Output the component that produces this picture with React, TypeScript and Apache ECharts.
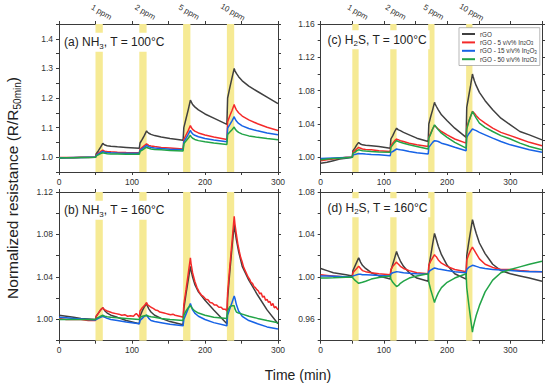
import React, { useEffect, useRef } from "react";
import * as echarts from "echarts";

// ---------- data ----------
const SERIES_NAMES = ["rGO", "rGO - 5 v/v% In2O3", "rGO - 15 v/v% In2O3", "rGO - 50 v/v% In2O3"];
const LINE_COLORS = ["#404040", "#f42a2a", "#1763e6", "#22a447"];

const EXPOSURE_STARTS = [50, 110, 170, 230];
const EXPOSURE_LENGTH = 10;
const CONC_LABELS = ["1 ppm", "2 ppm", "5 ppm", "10 ppm"];

const TIME_AB = [0, 10, 20, 30, 40,
  50, 51, 54, 57, 60, 61, 63, 66, 71, 80, 92,
  110, 111, 114, 117, 120, 121, 123, 126, 131, 140, 152,
  170, 171, 174, 177, 180, 181, 183, 186, 191, 200, 212,
  230, 231, 234, 237, 240, 241, 243, 246, 251, 260, 272, 285, 300];

const TIME_CD = [0, 10, 20, 30, 40,
  50, 51, 54, 57, 60, 61, 63, 66, 71, 80, 92,
  110, 111, 114, 117, 120, 121, 123, 126, 131, 140, 152,
  170, 171, 174, 177, 180, 181, 183, 186, 191, 200, 212,
  230, 231, 234, 237, 240, 241, 243, 246, 251, 260, 272, 285, 300, 315, 330, 350];

const TIME_B_RED = [0, 10, 20, 30, 40, 50, 51, 54, 57, 60, 61, 63, 66, 70, 74, 78, 82, 86, 90, 94, 98, 102, 104, 106, 108, 110,
  111, 114, 117, 120, 121, 123, 126, 129, 132, 135, 138, 141, 144, 147, 150, 153, 156, 159, 162, 165, 168, 170,
  171, 174, 177, 180, 181, 183, 186, 189, 192, 195, 198, 201, 204, 207, 210, 213, 216, 219, 222, 225, 228, 230,
  231, 234, 237, 240, 241, 243, 245, 247, 249, 251, 253, 255, 257, 259, 261, 263, 265, 267, 269, 271, 273, 275, 277, 279,
  281, 283, 285, 287, 289, 291, 293, 295, 297, 300];

// (a) NH3, 100 °C
const NH3_100_RGO = [0.997, 0.998, 0.998, 0.999, 0.999,
  1.000, 1.012, 1.022, 1.034, 1.047, 1.044, 1.041, 1.039, 1.037, 1.035, 1.033,
  1.030, 1.048, 1.060, 1.074, 1.089, 1.085, 1.081, 1.077, 1.073, 1.068, 1.063,
  1.057, 1.100, 1.130, 1.160, 1.193, 1.188, 1.178, 1.170, 1.160, 1.146, 1.132,
  1.111, 1.200, 1.235, 1.268, 1.300, 1.292, 1.283, 1.272, 1.258, 1.240, 1.222, 1.203, 1.181];
const NH3_100_IN5 = [0.999, 0.999, 0.999, 1.000, 1.000,
  1.000, 1.008, 1.014, 1.019, 1.024, 1.022, 1.020, 1.019, 1.018, 1.017, 1.016,
  1.015, 1.027, 1.033, 1.039, 1.045, 1.043, 1.040, 1.038, 1.036, 1.033, 1.031,
  1.028, 1.060, 1.075, 1.090, 1.107, 1.101, 1.094, 1.088, 1.082, 1.075, 1.068,
  1.060, 1.120, 1.140, 1.158, 1.178, 1.170, 1.160, 1.150, 1.139, 1.126, 1.113, 1.101, 1.090];
const NH3_100_IN15 = [0.998, 0.998, 0.999, 0.999, 1.000,
  1.000, 1.006, 1.011, 1.015, 1.020, 1.018, 1.017, 1.016, 1.015, 1.014, 1.013,
  1.013, 1.024, 1.029, 1.034, 1.040, 1.038, 1.035, 1.033, 1.031, 1.029, 1.027,
  1.025, 1.052, 1.064, 1.077, 1.091, 1.085, 1.079, 1.074, 1.069, 1.063, 1.058,
  1.052, 1.098, 1.110, 1.123, 1.137, 1.130, 1.122, 1.114, 1.106, 1.097, 1.089, 1.082, 1.076];
const NH3_100_IN50 = [0.997, 0.998, 0.998, 0.999, 0.999,
  1.000, 1.005, 1.008, 1.012, 1.015, 1.014, 1.013, 1.012, 1.011, 1.011, 1.010,
  1.010, 1.020, 1.024, 1.029, 1.034, 1.032, 1.030, 1.028, 1.026, 1.025, 1.023,
  1.021, 1.045, 1.055, 1.064, 1.074, 1.069, 1.064, 1.060, 1.056, 1.052, 1.048,
  1.043, 1.077, 1.085, 1.093, 1.102, 1.096, 1.090, 1.084, 1.078, 1.072, 1.067, 1.063, 1.059];

// (b) NH3, 160 °C
const NH3_160_RGO = [1.004, 1.003, 1.002, 1.001, 1.0005,
  1.000, 1.003, 1.006, 1.009, 1.011, 1.010, 1.008, 1.006, 1.004, 1.002, 0.999,
  0.996, 1.003, 1.008, 1.012, 1.015, 1.013, 1.010, 1.007, 1.004, 1.001, 0.998,
  0.995, 1.010, 1.024, 1.037, 1.050, 1.046, 1.040, 1.033, 1.026, 1.018, 1.009,
  0.996, 1.020, 1.045, 1.068, 1.089, 1.084, 1.075, 1.064, 1.050, 1.037, 1.023, 1.009, 0.996];
const NH3_160_IN5 = [1.001, 1.000, 1.000, 1.000, 0.999, 0.999,
  1.003, 1.006, 1.009, 1.011, 1.010, 1.009, 1.008,
  1.007, 1.006, 1.0055, 1.005, 1.004, 1.0045, 1.003, 1.0035,
  1.003, 1.0045, 1.0055, 1.004, 1.002,
  1.008, 1.011, 1.013, 1.016, 1.014, 1.013, 1.0115,
  1.0105, 1.009, 1.0085, 1.007, 1.0065, 1.006, 1.0055, 1.005, 1.0045, 1.005, 1.004, 1.0035, 1.003, 1.0025,
  1.002,
  1.014, 1.028, 1.043, 1.058, 1.052, 1.044, 1.036,
  1.030, 1.026, 1.023, 1.0215, 1.019, 1.0185, 1.016, 1.0155, 1.0135, 1.0135, 1.0115, 1.0115, 1.0095, 1.0095,
  1.008,
  1.025, 1.050, 1.073, 1.097, 1.090,
  1.080, 1.071, 1.064, 1.058, 1.054, 1.049, 1.046, 1.043, 1.040, 1.038, 1.035, 1.034, 1.031, 1.030,
  1.028, 1.027, 1.024, 1.025, 1.021, 1.022, 1.018, 1.019, 1.016, 1.017, 1.013, 1.015, 1.011, 1.012,
  1.009];
const NH3_160_IN15 = [1.002, 1.0015, 1.001, 1.0005, 1.000,
  0.9995, 1.000, 1.001, 1.002, 1.003, 1.0025, 1.002, 1.001, 1.000, 0.999, 0.9975,
  0.996, 0.999, 1.001, 1.003, 1.004, 1.003, 1.001, 0.999, 0.998, 0.997, 0.9955,
  0.994, 1.000, 1.005, 1.010, 1.015, 1.013, 1.009, 1.006, 1.003, 1.000, 0.997,
  0.994, 1.004, 1.010, 1.016, 1.022, 1.020, 1.014, 1.008, 1.003, 0.999, 0.996, 0.993, 0.991];
const NH3_160_IN50 = [1.000, 1.000, 1.000, 1.000, 1.000,
  1.000, 1.001, 1.002, 1.003, 1.004, 1.0035, 1.003, 1.0025, 1.002, 1.0015, 1.001,
  1.000, 1.002, 1.003, 1.0035, 1.004, 1.0035, 1.003, 1.0025, 1.002, 1.001, 1.000,
  0.999, 1.004, 1.008, 1.011, 1.013, 1.012, 1.010, 1.008, 1.006, 1.004, 1.002,
  1.001, 1.008, 1.012, 1.013, 1.013, 1.010, 1.007, 1.006, 1.005, 1.003, 1.001, 0.999, 0.997];

// (c) H2S, 100 °C
const H2S_100_RGO = [0.993, 0.994, 0.996, 0.998, 0.999,
  1.000, 1.008, 1.011, 1.015, 1.018, 1.017, 1.016, 1.015, 1.0145, 1.014, 1.013,
  1.011, 1.022, 1.026, 1.031, 1.035, 1.034, 1.033, 1.032, 1.030, 1.027, 1.023,
  1.019, 1.040, 1.049, 1.057, 1.066, 1.064, 1.061, 1.057, 1.051, 1.044, 1.035,
  1.024, 1.060, 1.073, 1.086, 1.100, 1.097, 1.092, 1.086, 1.078, 1.068, 1.057, 1.047, 1.039, 1.031, 1.027, 1.021];
const H2S_100_IN5 = [0.996, 0.997, 0.998, 0.999, 1.000,
  1.000, 1.006, 1.008, 1.010, 1.012, 1.0115, 1.011, 1.010, 1.0095, 1.009, 1.008,
  1.007, 1.014, 1.017, 1.020, 1.022, 1.0215, 1.021, 1.020, 1.019, 1.017, 1.015,
  1.013, 1.024, 1.029, 1.034, 1.038, 1.0375, 1.036, 1.034, 1.031, 1.027, 1.022,
  1.017, 1.036, 1.043, 1.049, 1.055, 1.0545, 1.053, 1.050, 1.046, 1.041, 1.035, 1.030, 1.026, 1.022, 1.018, 1.014];
const H2S_100_IN15 = [0.9985, 0.999, 0.9993, 0.9996, 0.9998,
  1.000, 1.003, 1.0035, 1.004, 1.0045, 1.0045, 1.0044, 1.0043, 1.004, 1.0035, 1.003,
  1.002, 1.006, 1.007, 1.0085, 1.010, 1.010, 1.0095, 1.009, 1.0085, 1.007, 1.0055,
  1.004, 1.012, 1.015, 1.018, 1.020, 1.020, 1.0195, 1.019, 1.017, 1.015, 1.012,
  1.008, 1.024, 1.028, 1.031, 1.034, 1.034, 1.033, 1.032, 1.030, 1.027, 1.023, 1.019, 1.015, 1.012, 1.009, 1.006];
const H2S_100_IN50 = [0.997, 0.998, 0.9985, 0.999, 0.9995,
  1.000, 1.005, 1.006, 1.008, 1.009, 1.009, 1.0085, 1.008, 1.0075, 1.007, 1.0065,
  1.006, 1.012, 1.015, 1.018, 1.020, 1.0195, 1.019, 1.018, 1.017, 1.015, 1.013,
  1.010, 1.023, 1.028, 1.034, 1.039, 1.038, 1.036, 1.033, 1.029, 1.024, 1.018,
  1.011, 1.034, 1.042, 1.049, 1.055, 1.054, 1.051, 1.047, 1.041, 1.036, 1.031, 1.026, 1.022, 1.017, 1.013, 1.009];

// (d) H2S, 160 °C
const H2S_160_RGO = [1.008, 1.006, 1.004, 1.003, 1.002,
  1.001, 1.006, 1.010, 1.014, 1.018, 1.017, 1.014, 1.011, 1.008, 1.004, 1.001,
  0.998, 1.006, 1.012, 1.018, 1.024, 1.022, 1.019, 1.015, 1.010, 1.004, 0.999,
  0.996, 1.010, 1.020, 1.031, 1.041, 1.039, 1.035, 1.029, 1.021, 1.011, 1.003,
  0.998, 1.020, 1.032, 1.043, 1.054, 1.052, 1.047, 1.041, 1.032, 1.022, 1.012, 1.006, 1.003, 1.001, 0.999, 0.996];
const H2S_160_IN5 = [1.002, 1.0015, 1.001, 1.0005, 1.000,
  1.000, 1.004, 1.006, 1.008, 1.010, 1.0095, 1.008, 1.006, 1.005, 1.004, 1.003,
  1.002, 1.007, 1.010, 1.012, 1.014, 1.013, 1.012, 1.010, 1.008, 1.006, 1.004,
  1.003, 1.011, 1.015, 1.018, 1.021, 1.020, 1.019, 1.016, 1.013, 1.010, 1.007,
  1.005, 1.016, 1.021, 1.025, 1.028, 1.027, 1.025, 1.022, 1.017, 1.012, 1.009, 1.007, 1.007, 1.006, 1.0055, 1.005];
const H2S_160_IN15 = [1.001, 1.0008, 1.0006, 1.0004, 1.0002,
  1.000, 1.001, 1.0015, 1.002, 1.0025, 1.0025, 1.0025, 1.002, 1.002, 1.0018, 1.0015,
  1.001, 1.003, 1.004, 1.0045, 1.005, 1.005, 1.0048, 1.0045, 1.004, 1.0035, 1.003,
  1.0025, 1.005, 1.0065, 1.0075, 1.0085, 1.0085, 1.008, 1.0075, 1.007, 1.006, 1.005,
  1.004, 1.007, 1.009, 1.010, 1.011, 1.011, 1.0105, 1.010, 1.009, 1.008, 1.007, 1.0065, 1.006, 1.0055, 1.005, 1.005];
const H2S_160_IN50 = [0.999, 0.999, 0.9992, 0.9995, 0.9998,
  1.000, 0.999, 0.997, 0.9955, 0.994, 0.994, 0.9945, 0.995, 0.996, 0.998, 0.9995,
  1.001, 0.998, 0.995, 0.993, 0.991, 0.991, 0.992, 0.994, 0.996, 0.999, 1.001,
  1.003, 0.995, 0.988, 0.982, 0.976, 0.978, 0.981, 0.985, 0.990, 0.995, 0.999,
  1.003, 0.990, 0.975, 0.961, 0.948, 0.952, 0.957, 0.964, 0.973, 0.986, 0.997, 1.004, 1.007, 1.0095, 1.012, 1.0148];

// tick values
const X_TICKS_AB = [0, 50, 100, 150, 200, 250, 300];
const X_TICKS_CD = [0, 50, 100, 150, 200, 250, 300, 350];
const X_LABELS = [0, 100, 200, 300];
const Y_TICKS_A = [0.95, 1.0, 1.05, 1.1, 1.15, 1.2, 1.25, 1.3, 1.35, 1.4, 1.45];
const Y_LABELS_A = [1.0, 1.1, 1.2, 1.3, 1.4];
const Y_TICKS_B = [0.98, 1.0, 1.02, 1.04, 1.06, 1.08, 1.1, 1.12];
const Y_LABELS_B = [1.0, 1.04, 1.08, 1.12];
const Y_TICKS_C = [1.0, 1.02, 1.04, 1.06, 1.08, 1.1, 1.12, 1.14, 1.16];
const Y_LABELS_C = [1.0, 1.04, 1.08, 1.12, 1.16];
const Y_TICKS_D = [0.94, 0.96, 0.98, 1.0, 1.02, 1.04, 1.06, 1.08];
const Y_LABELS_D = [0.96, 1.0, 1.04, 1.08];

// ---------- styling / layout ----------
const FONT = "'Liberation Sans', Arial, Helvetica, sans-serif";
const AXIS_COLOR = "#3a3a3a";
const LABEL_COLOR = "#333";
const BAND_COLOR = "#f6ea94";

type Panel = {
  grid: { left: number; top: number; width: number; height: number };
  xMax: number;
  xTicks: number[];
  yMin: number;
  yMax: number;
  yTicks: number[];
  yLabels: number[];
  yDigits: number;
  times: number[][];
  values: number[][];
  title: string;
  titleX: number;
  titleY: number;
  ppm: boolean;
};

const PANELS: Panel[] = [
  {
    grid: { left: 59, top: 24, width: 219, height: 148 },
    xMax: 300, xTicks: X_TICKS_AB, yMin: 0.95, yMax: 1.45, yTicks: Y_TICKS_A, yLabels: Y_LABELS_A, yDigits: 1,
    times: [TIME_AB, TIME_AB, TIME_AB, TIME_AB],
    values: [NH3_100_RGO, NH3_100_IN5, NH3_100_IN15, NH3_100_IN50],
    title: "{t|(a) NH}{s|3}{t|, T = 100°C}", titleX: 61.5, titleY: 42.2, ppm: true,
  },
  {
    grid: { left: 59, top: 192, width: 219, height: 148.7 },
    xMax: 300, xTicks: X_TICKS_AB, yMin: 0.98, yMax: 1.12, yTicks: Y_TICKS_B, yLabels: Y_LABELS_B, yDigits: 2,
    times: [TIME_AB, TIME_B_RED, TIME_AB, TIME_AB],
    values: [NH3_160_RGO, NH3_160_IN5, NH3_160_IN15, NH3_160_IN50],
    title: "{t|(b) NH}{s|3}{t|, T = 160°C}", titleX: 61.5, titleY: 210.2, ppm: false,
  },
  {
    grid: { left: 320.7, top: 24, width: 221.3, height: 148 },
    xMax: 350, xTicks: X_TICKS_CD, yMin: 0.9824, yMax: 1.16, yTicks: Y_TICKS_C, yLabels: Y_LABELS_C, yDigits: 2,
    times: [TIME_CD, TIME_CD, TIME_CD, TIME_CD],
    values: [H2S_100_RGO, H2S_100_IN5, H2S_100_IN15, H2S_100_IN50],
    title: "{t|(c) H}{s|2}{t|S, T = 100°C}", titleX: 325, titleY: 39.7, ppm: true,
  },
  {
    grid: { left: 320.7, top: 192, width: 221.3, height: 148.7 },
    xMax: 350, xTicks: X_TICKS_CD, yMin: 0.94, yMax: 1.08, yTicks: Y_TICKS_D, yLabels: Y_LABELS_D, yDigits: 2,
    times: [TIME_CD, TIME_CD, TIME_CD, TIME_CD],
    values: [H2S_160_RGO, H2S_160_IN5, H2S_160_IN15, H2S_160_IN50],
    title: "{t|(d) H}{s|2}{t|S, T = 160°C}", titleX: 325, titleY: 207.7, ppm: false,
  },
];

function buildOption() {
  const grid: any[] = [];
  const xAxis: any[] = [];
  const yAxis: any[] = [];
  const series: any[] = [];
  const graphics: any[] = [];
  const axisLine = { show: true, onZero: false, lineStyle: { color: AXIS_COLOR, width: 1 } };
  const tickStyle = { color: AXIS_COLOR, width: 1 };
  const labelBase = { fontSize: 8.5, color: LABEL_COLOR, fontFamily: FONT };
  const centers = EXPOSURE_STARTS.map((s) => s + EXPOSURE_LENGTH / 2);

  PANELS.forEach((p, pi) => {
    grid.push({ ...p.grid, containLabel: false });
    xAxis.push({
      type: "value", gridIndex: pi, position: "bottom", min: 0, max: p.xMax,
      axisLine, splitLine: { show: false },
      axisTick: { show: true, customValues: p.xTicks, length: 3, lineStyle: tickStyle },
      axisLabel: { ...labelBase, customValues: X_LABELS, margin: 5, formatter: (v: number) => String(v) },
    });
    xAxis.push({
      type: "value", gridIndex: pi, position: "top", min: 0, max: p.xMax,
      axisLine, splitLine: { show: false },
      axisTick: { show: true, customValues: p.xTicks, length: 3, lineStyle: tickStyle },
      axisLabel: { show: false },
    });
    yAxis.push({
      type: "value", gridIndex: pi, position: "left", min: p.yMin, max: p.yMax,
      axisLine, splitLine: { show: false },
      axisTick: { show: true, customValues: p.yTicks, length: 3, lineStyle: tickStyle },
      axisLabel: { ...labelBase, customValues: p.yLabels, margin: 6, formatter: (v: number) => v.toFixed(p.yDigits) },
    });
    yAxis.push({
      type: "value", gridIndex: pi, position: "right", min: p.yMin, max: p.yMax,
      axisLine, splitLine: { show: false },
      axisTick: { show: true, customValues: p.yTicks, length: 3, lineStyle: tickStyle },
      axisLabel: { show: false },
    });

    p.values.forEach((vals, si) => {
      const times = p.times[si];
      const s: any = {
        type: "line", name: SERIES_NAMES[si], xAxisIndex: pi * 2, yAxisIndex: pi * 2,
        data: vals.map((v, i) => [times[i], v]),
        showSymbol: false, symbol: "none", silent: true, z: 3, clip: true,
        color: LINE_COLORS[si],
        lineStyle: { color: LINE_COLORS[si], width: 1.5 },
      };
      if (si === 0) {
        s.markArea = {
          silent: true, z: 1,
          itemStyle: { color: BAND_COLOR, opacity: 1 },
          label: { show: false },
          data: EXPOSURE_STARTS.map((st) => [{ xAxis: st }, { xAxis: st + EXPOSURE_LENGTH }]),
        };
      }
      series.push(s);
    });

    graphics.push({
      type: "text", x: p.titleX, y: p.titleY, z: 20,
      style: {
        text: p.title, align: "left", verticalAlign: "middle",
        backgroundColor: "#fff", padding: [1.5, 2.5, 1.5, 2.5],
        fontFamily: FONT, fontSize: 12, fill: "#222",
        rich: {
          t: { fontFamily: FONT, fontSize: 12, lineHeight: 16, fill: "#222" },
          s: { fontFamily: FONT, fontSize: 8, lineHeight: 8, verticalAlign: "bottom", fill: "#222" },
        },
      },
    });
  });

  PANELS.forEach((p, pi) => {
    if (!p.ppm) return;
    xAxis.push({
      type: "value", gridIndex: pi, position: "top", min: 0, max: p.xMax,
      axisLine: { show: false }, axisTick: { show: false }, splitLine: { show: false },
      axisLabel: {
        customValues: centers, rotate: 30, align: "center", verticalAlign: "middle", margin: 13,
        fontSize: 8, color: LABEL_COLOR, fontFamily: FONT, padding: [0, 0, 0, 5],
        formatter: (v: number) => CONC_LABELS[centers.indexOf(v)] ?? "",
      },
    });
  });

  graphics.push({
    type: "text", x: 12, y: 188, rotation: Math.PI / 2, z: 20,
    style: {
      text: "{t|Normalized resistance (R/R}{s|50min}{t|)}", align: "center", verticalAlign: "middle",
      fontFamily: FONT, fontSize: 15.5, fill: "#222",
      rich: {
        t: { fontFamily: FONT, fontSize: 15.5, lineHeight: 20, fill: "#222" },
        s: { fontFamily: FONT, fontSize: 10, lineHeight: 10, verticalAlign: "bottom", fill: "#222" },
      },
    },
  });
  graphics.push({
    type: "text", x: 298, y: 374.5, z: 20,
    style: { text: "Time (min)", align: "center", verticalAlign: "middle", fontFamily: FONT, fontSize: 14, fill: "#222" },
  });

  return {
    animation: false,
    backgroundColor: "#fff",
    textStyle: { fontFamily: FONT },
    grid, xAxis, yAxis, series,
    legend: {
      data: SERIES_NAMES, orient: "vertical", left: 459, top: 27.7,
      padding: [2.5, 3, 2.5, 3], itemGap: 0.8, itemWidth: 13, itemHeight: 2, icon: "rect",
      backgroundColor: "#fff", borderColor: "#999", borderWidth: 0.7, selectedMode: false, z: 10,
      textStyle: {
        fontSize: 6.3, lineHeight: 7.6, color: LABEL_COLOR, fontFamily: FONT,
        rich: { s: { fontSize: 4.5, lineHeight: 4.5, verticalAlign: "bottom", color: LABEL_COLOR, fontFamily: FONT } },
      },
      formatter: (n: string) => n.replace("In2O3", "In{s|2}O{s|3}"),
    },
    graphic: { elements: graphics },
  };
}

export default function App() {
  const ref = useRef<HTMLDivElement>(null);
  useEffect(() => {
    if (!ref.current) return;
    const chart = echarts.init(ref.current, undefined, { renderer: "svg" });
    chart.setOption(buildOption() as any);
    return () => chart.dispose();
  }, []);
  return <div ref={ref} style={{ position: "absolute", left: 0, top: 0, width: 550, height: 386 }} />;
}
